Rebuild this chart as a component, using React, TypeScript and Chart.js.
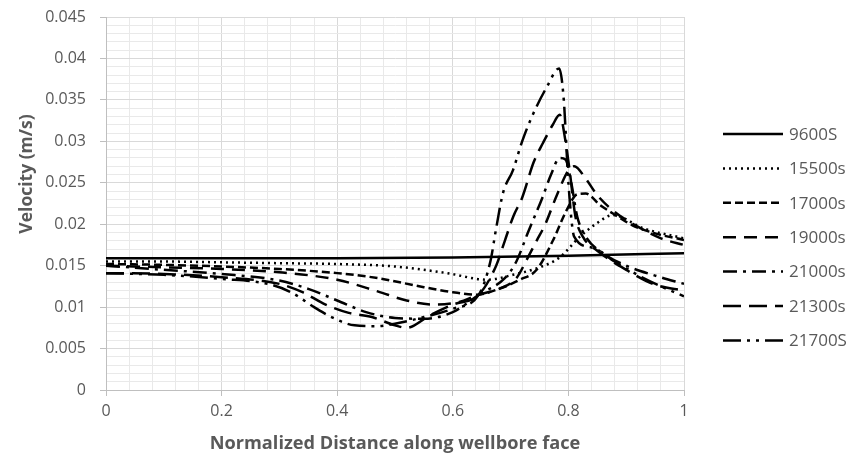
import React, { useEffect, useRef } from "react";
import { Chart, registerables } from "chart.js";

Chart.register(...registerables);

const seriesLabels = ["9600S", "15500s", "17000s", "19000s", "21000s", "21300s", "21700S"];

const x9600 = [0, 0.2, 0.4, 0.6, 0.8, 1];
const y9600 = [0.0159, 0.0159, 0.0159, 0.016, 0.0162, 0.0165];

const x15500 = [0, 0.1, 0.2, 0.3, 0.4, 0.5, 0.59, 0.66, 0.704, 0.75, 0.785, 0.82, 0.849, 0.877, 0.93, 1];
const y15500 = [0.0155, 0.0155, 0.0154, 0.0153, 0.0152, 0.0149, 0.0141, 0.0133, 0.0139, 0.0148, 0.016, 0.0185, 0.0201, 0.0211, 0.0195, 0.0183];

const x17000 = [0, 0.1, 0.2, 0.3, 0.4, 0.47, 0.55, 0.6, 0.64, 0.68, 0.716, 0.745, 0.773, 0.797, 0.815, 0.83, 0.855, 0.877, 0.91, 0.95, 1];
const y17000 = [0.0152, 0.0151, 0.0149, 0.0146, 0.0141, 0.0135, 0.0124, 0.0118, 0.0115, 0.0122, 0.0133, 0.0145, 0.018, 0.0217, 0.0236, 0.0237, 0.0223, 0.0213, 0.0199, 0.0189, 0.0181];

const x19000 = [0, 0.1, 0.2, 0.3, 0.4, 0.47, 0.52, 0.57, 0.61, 0.645, 0.68, 0.71, 0.73, 0.745, 0.76, 0.78, 0.8, 0.81, 0.83, 0.85, 0.88, 0.92, 0.96, 1];
const y19000 = [0.015, 0.0148, 0.0146, 0.0142, 0.0133, 0.0119, 0.0108, 0.0103, 0.0106, 0.0115, 0.0122, 0.0135, 0.016, 0.018, 0.02, 0.0235, 0.0265, 0.027, 0.0255, 0.0235, 0.0215, 0.0197, 0.0183, 0.0175];

const x21000 = [0, 0.1, 0.2, 0.3, 0.35, 0.4, 0.45, 0.5, 0.55, 0.6, 0.645, 0.69, 0.71, 0.73, 0.745, 0.755, 0.77, 0.785, 0.795, 0.805, 0.815, 0.83, 0.86, 0.9, 0.95, 1];
const y21000 = [0.015, 0.0145, 0.014, 0.0132, 0.0122, 0.0108, 0.0094, 0.0087, 0.0086, 0.0094, 0.0115, 0.0135, 0.0155, 0.019, 0.0215, 0.0232, 0.026, 0.028, 0.0278, 0.025, 0.021, 0.0185, 0.0165, 0.015, 0.0138, 0.0128];

const x21300 = [0, 0.1, 0.2, 0.3, 0.34, 0.38, 0.42, 0.46, 0.5, 0.52, 0.56, 0.6, 0.645, 0.675, 0.69, 0.705, 0.72, 0.74, 0.756, 0.773, 0.785, 0.795, 0.803, 0.812, 0.825, 0.85, 0.9, 0.95, 1];
const y21300 = [0.0141, 0.014, 0.0136, 0.0128, 0.0118, 0.0103, 0.0093, 0.0088, 0.0078, 0.0075, 0.009, 0.0103, 0.0115, 0.015, 0.018, 0.021, 0.0232, 0.0275, 0.0298, 0.032, 0.0332, 0.03, 0.026, 0.021, 0.0185, 0.0168, 0.0145, 0.0127, 0.012];

const x21700 = [0, 0.1, 0.2, 0.28, 0.32, 0.36, 0.39, 0.43, 0.47, 0.5, 0.55, 0.6, 0.645, 0.665, 0.675, 0.687, 0.704, 0.72, 0.737, 0.763, 0.784, 0.792, 0.8, 0.81, 0.84, 0.88, 0.93, 0.97, 1];
const y21700 = [0.0141, 0.0139, 0.0134, 0.0128, 0.0118, 0.01, 0.0088, 0.0078, 0.0077, 0.008, 0.0088, 0.0098, 0.0115, 0.0155, 0.0195, 0.0238, 0.0265, 0.03, 0.033, 0.0366, 0.0388, 0.035, 0.025, 0.0185, 0.0172, 0.0155, 0.0135, 0.0122, 0.0113];

const seriesX = [x9600, x15500, x17000, x19000, x21000, x21300, x21700];
const seriesY = [y9600, y15500, y17000, y19000, y21000, y21300, y21700];
const seriesDash: number[][] = [[], [2, 4], [8, 4], [13, 8], [14, 6, 3, 6], [18, 8], [18, 6, 3, 6, 3, 6]];

const yTickValues = [0, 0.005, 0.01, 0.015, 0.02, 0.025, 0.03, 0.035, 0.04, 0.045];
const xTickValues = [0, 0.2, 0.4, 0.6, 0.8, 1];
const xTitle = "Normalized Distance along wellbore face";
const yTitle = "Velocity (m/s)";

const FONT = "'Open Sans', 'Liberation Sans', sans-serif";
const TXT = "#595959";

const isMajor = (v: number, step: number) => Math.abs(v / step - Math.round(v / step)) < 1e-6;

const legendPlugin = {
  id: "customLegend",
  afterDraw(chart: any) {
    const ctx = chart.ctx;
    ctx.save();
    chart.data.datasets.forEach((ds: any, i: number) => {
      const y = 134 + 34.4 * i;
      ctx.beginPath();
      ctx.setLineDash(ds.borderDash || []);
      ctx.lineWidth = ds.borderWidth;
      ctx.strokeStyle = "#000";
      ctx.lineCap = "butt";
      ctx.moveTo(723, y);
      ctx.lineTo(783, y);
      ctx.stroke();
      ctx.setLineDash([]);
      ctx.fillStyle = TXT;
      ctx.font = `17px ${FONT}`;
      ctx.textBaseline = "middle";
      ctx.textAlign = "left";
      ctx.fillText(ds.label, 789, y + 1);
    });
    // y-axis title
    ctx.translate(27, 174);
    ctx.rotate(-Math.PI / 2);
    ctx.font = `bold 17.5px ${FONT}`;
    ctx.textAlign = "center";
    ctx.textBaseline = "middle";
    ctx.fillStyle = TXT;
    ctx.fillText(yTitle, 0, 0);
    ctx.restore();
  },
};

export default function App() {
  const ref = useRef<HTMLCanvasElement | null>(null);
  useEffect(() => {
    document.body.style.margin = "0";
    const datasets = seriesLabels.map((label, i) => ({
      label,
      data: seriesX[i].map((x, j) => ({ x, y: seriesY[i][j] })),
      borderColor: "#000",
      backgroundColor: "#000",
      borderWidth: 2.5,
      borderDash: seriesDash[i],
      pointRadius: 0,
      fill: false,
      showLine: true,
      cubicInterpolationMode: "monotone" as const,
    }));
    const chart = new Chart(ref.current!, {
      type: "scatter",
      data: { datasets },
      plugins: [legendPlugin],
      options: {
        animation: false,
        responsive: false,
        layout: { padding: { top: 17, right: 169, left: 0, bottom: 0 } },
        plugins: { legend: { display: false }, tooltip: { enabled: false } },
        scales: {
          x: {
            type: "linear",
            min: 0,
            max: 1,
            afterBuildTicks: (scale: any) => {
              const t = [];
              for (let k = 0; k <= 25; k++) t.push({ value: k * 0.04 });
              scale.ticks = t;
            },
            afterFit: (scale: any) => {
              scale.height = 67;
              scale.paddingLeft = 0;
              scale.paddingRight = 0;
            },
            ticks: {
              autoSkip: false,
              maxRotation: 0,
              padding: 6,
              color: TXT,
              font: { family: FONT, size: 16 },
              callback: (v: any) => {
                const n = Number(v);
                return xTickValues.some((t) => Math.abs(t - n) < 1e-6) ? String(Math.round(n * 10) / 10) : "";
              },
            },
            grid: {
              color: (c: any) => (isMajor(c.tick?.value ?? 0, 0.2) ? "#d9d9d9" : "#e9e9e9"),
              tickColor: (c: any) => (isMajor(c.tick?.value ?? 0, 0.2) ? "#bfbfbf" : "rgba(0,0,0,0)"),
              tickLength: 6,
              lineWidth: 1,
            },
            border: { color: "#bfbfbf", width: 1 },
            title: {
              display: true,
              text: xTitle,
              color: TXT,
              font: { family: FONT, size: 18.2, weight: "bold" },
              padding: 2,
            },
          },
          y: {
            type: "linear",
            min: 0,
            max: 0.045,
            afterBuildTicks: (scale: any) => {
              const t = [];
              for (let k = 0; k <= 45; k++) t.push({ value: k * 0.001 });
              scale.ticks = t;
            },
            afterFit: (scale: any) => {
              scale.width = 106;
              scale.paddingTop = 0;
              scale.paddingBottom = 0;
            },
            ticks: {
              autoSkip: false,
              padding: 14,
              color: TXT,
              font: { family: FONT, size: 16 },
              callback: (v: any) => {
                const n = Number(v);
                const m = yTickValues.find((t) => Math.abs(t - n) < 1e-7);
                return m === undefined ? "" : String(parseFloat(m.toFixed(3)));
              },
            },
            grid: {
              color: (c: any) => (isMajor(c.tick?.value ?? 0, 0.005) ? "#d9d9d9" : "#e9e9e9"),
              tickColor: (c: any) => (isMajor(c.tick?.value ?? 0, 0.005) ? "#bfbfbf" : "rgba(0,0,0,0)"),
              tickLength: 6,
              lineWidth: 1,
            },
            border: { color: "#bfbfbf", width: 1 },
            title: { display: false },
          },
        },
      },
    });
    return () => chart.destroy();
  }, []);
  return (
    <div style={{ width: 853, height: 457, background: "#fff" }}>
      <canvas ref={ref} width={853} height={457} style={{ display: "block" }} />
    </div>
  );
}
